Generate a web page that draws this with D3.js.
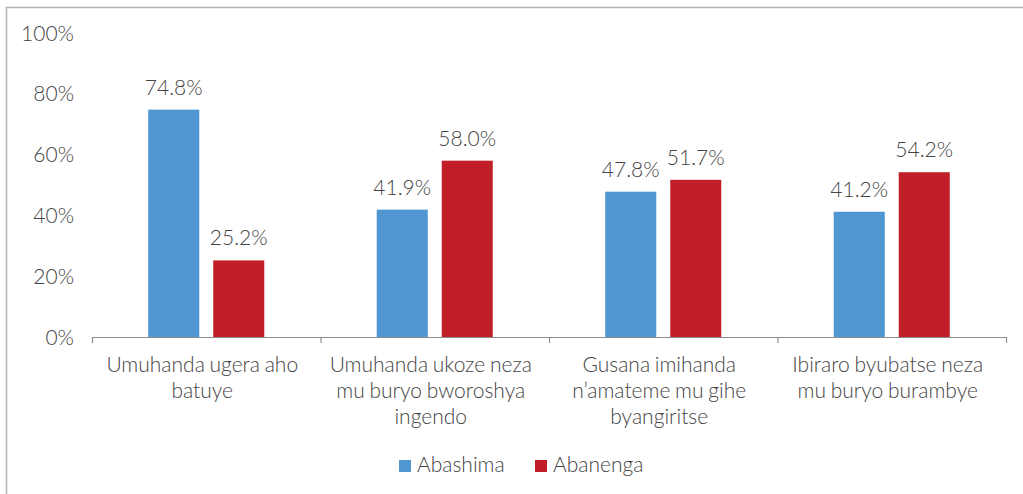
<!DOCTYPE html>
<html>
<head>
<meta charset="utf-8">
<script src="https://cdn.jsdelivr.net/npm/d3@7"></script>
<style>
  html, body { margin: 0; padding: 0; background: #fff; }
  svg { display: block; font-family: Lato, "Open Sans", sans-serif; font-weight: 300; }
</style>
</head>
<body>
<svg id="chart" width="1023" height="494"></svg>
<script>
// Categories (each label split into its display lines)
const categories = [
  ["Umuhanda ugera aho", "batuye"],
  ["Umuhanda ukoze neza", "mu buryo bworoshya", "ingendo"],
  ["Gusana imihanda", "n\u2019amateme mu gihe", "byangiritse"],
  ["Ibiraro byubatse neza", "mu buryo burambye"]
];
const seriesNames = ["Abashima", "Abanenga"];
const abashima = [74.8, 41.9, 47.8, 41.2];
const abanenga = [25.2, 58.0, 51.7, 54.2];
const yTicks = [0, 20, 40, 60, 80, 100];
const colors = ["#5097d2", "#c01f27"];
const textColor = "#444444";
const fontSize = 21;

const svg = d3.select("#chart");

// outer frame (runs past the right and bottom edges)
svg.append("rect")
  .attr("x", 6.5).attr("y", 7.5)
  .attr("width", 1040).attr("height", 520)
  .attr("fill", "none").attr("stroke", "#b3b3b3").attr("stroke-width", 1.5);

const plotLeft = 92, plotRight = 1006, plotTop = 33, plotBottom = 337;

const x = d3.scaleBand().domain(d3.range(categories.length)).range([plotLeft, plotRight]);
const inner = d3.scaleBand().domain([0, 1]).range([0, x.bandwidth()])
  .paddingInner(0.215).paddingOuter(0.865);
const y = d3.scaleLinear().domain([0, 100]).range([plotBottom, plotTop]);

// y labels
svg.append("g").selectAll("text").data(yTicks).join("text")
  .attr("x", 74).attr("y", d => y(d))
  .attr("dy", "0.36em")
  .attr("text-anchor", "end")
  .attr("font-size", fontSize)
  .attr("fill", textColor)
  .text(d => d + "%");

// bars
const series = [abashima, abanenga];
series.forEach((vals, s) => {
  const g = svg.append("g");
  g.selectAll("rect").data(vals).join("rect")
    .attr("x", (d, i) => x(i) + inner(s))
    .attr("y", d => y(d))
    .attr("width", inner.bandwidth())
    .attr("height", d => y(0) - y(d))
    .attr("fill", colors[s]);
  g.selectAll("text").data(vals).join("text")
    .attr("x", (d, i) => x(i) + inner(s) + inner.bandwidth() / 2)
    .attr("y", d => y(d) - 15)
    .attr("text-anchor", "middle")
    .attr("font-size", fontSize)
    .attr("fill", textColor)
    .text(d => d.toFixed(1) + "%");
});

// x axis with category boundary ticks
const axis = svg.append("g");
axis.append("line")
  .attr("x1", plotLeft).attr("x2", plotRight)
  .attr("y1", plotBottom + 0.5).attr("y2", plotBottom + 0.5)
  .attr("stroke", "#8c8c8c").attr("stroke-width", 1.2);
const bounds = d3.range(categories.length + 1).map(i => i < categories.length ? x(i) : plotRight);
axis.selectAll("line.tick").data(bounds).join("line")
  .attr("class", "tick")
  .attr("x1", d => d + 0.5).attr("x2", d => d + 0.5)
  .attr("y1", plotBottom).attr("y2", plotBottom + 6)
  .attr("stroke", "#8c8c8c").attr("stroke-width", 1.2);

// category labels
categories.forEach((lines, i) => {
  const t = svg.append("text")
    .attr("text-anchor", "middle")
    .attr("font-size", fontSize)
    .attr("word-spacing", -1)
    .attr("fill", textColor);
  lines.forEach((ln, j) => {
    t.append("tspan")
      .attr("x", x(i) + x.bandwidth() / 2 - 4)
      .attr("y", 372 + j * 26)
      .text(ln);
  });
});

// legend
const legendX = [399, 535];
seriesNames.forEach((name, s) => {
  svg.append("rect")
    .attr("x", legendX[s]).attr("y", 460)
    .attr("width", 12).attr("height", 12)
    .attr("fill", colors[s]);
  svg.append("text")
    .attr("x", legendX[s] + 18).attr("y", 472)
    .attr("font-size", fontSize)
    .attr("fill", textColor)
    .text(name);
});
</script>
</body>
</html>
